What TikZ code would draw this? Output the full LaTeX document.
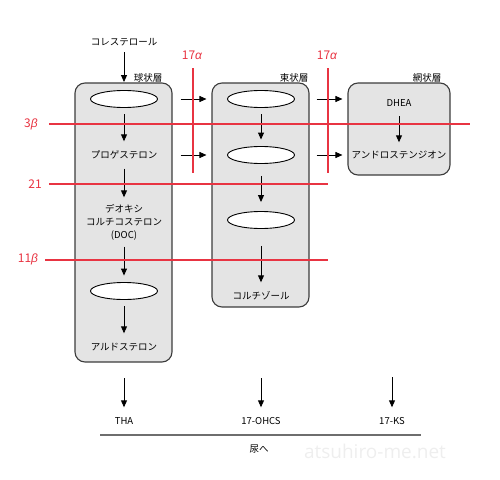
\documentclass[tikz,border=0pt]{standalone}
\usepackage{fontspec}
\setmainfont{Noto Sans CJK JP}
\newfontfamily\grkfont{Liberation Sans}
\newfontfamily\wmfont{Open Sans}
\usetikzlibrary{arrows.meta,shapes.geometric}
\definecolor{zred}{RGB}{232,52,66}
\definecolor{zfill}{RGB}{228,228,228}
\definecolor{zedge}{RGB}{60,60,60}
\definecolor{wmark}{RGB}{238,238,238}
\definecolor{uline}{RGB}{110,110,110}
\begin{document}
\begin{tikzpicture}[x=1pt,y=-1pt,
  font=\fontsize{9.5}{13}\selectfont,
  zone/.style={draw=zedge, fill=zfill, rounded corners=10pt, line width=1.1pt, inner sep=0pt},
  oval/.style={ellipse, draw=black, fill=white, minimum width=67pt, minimum height=17pt, inner sep=0pt, line width=0.9pt},
  lbl/.style={inner sep=0pt, minimum height=14pt, text=black, align=center},
  arr/.style={-{Triangle[length=7pt,width=6pt]}, line width=0.9pt, shorten <=6.5pt, shorten >=6.5pt},
  enz/.style={draw=zred, line width=1.1pt},
  enzlbl/.style={text=zred, font=\fontsize{12}{14}\selectfont, inner sep=0pt},
  layer/.style={inner sep=0pt, font=\fontsize{9.5}{11}\selectfont}
]
\useasboundingbox (0,0) rectangle (500,479);

% zones
\node[zone, minimum width=97pt, minimum height=279pt] (box1) at (123.5,222.5) {};
\node[zone, minimum width=97pt, minimum height=224pt] (box2) at (260.5,195) {};
\node[zone, minimum width=102pt, minimum height=92pt] (box3) at (399,129) {};

\node[layer] (lay1) at (148,78) {球状層};
\node[layer] (lay2) at (294,78) {束状層};
\node[layer] (lay3) at (427,78) {網状層};

% column 1
\node[lbl] (chol) at (124,42) {コレステロール};
\node[oval] (e11) at (124,99) {};
\node[lbl] (prog) at (124,155) {プロゲステロン};
\node[lbl] (doc) at (124,222) {デオキシ\\コルチコステロン\\(DOC)};
\node[oval] (e12) at (124,291) {};
\node[lbl] (aldo) at (124,347) {アルドステロン};

% column 2
\node[oval] (e21) at (261,99) {};
\node[oval] (e22) at (261,155) {};
\node[oval] (e23) at (261,220) {};
\node[lbl] (cort) at (261,296) {コルチゾール};

% column 3
\node[lbl] (dhea) at (399,103) {DHEA};
\node[lbl] (andro) at (399,155) {アンドロステンジオン};

% enzyme lines
\node[enzlbl] (l3b) at (31,124) {3{\grkfont\itshape β}};
\node[enzlbl] (l21) at (35,184) {21};
\node[enzlbl] (l11b) at (28,259) {11{\grkfont\itshape β}};
\node[enzlbl] (l17a) at (192,55) {17{\grkfont\itshape α}};
\node[enzlbl] (l17b) at (327,55) {17{\grkfont\itshape α}};
\coordinate (r3s) at (49,124);   \coordinate (r3e) at (470,124);
\coordinate (r21s) at (49,184);  \coordinate (r21e) at (328,184);
\coordinate (r11s) at (45,260);  \coordinate (r11e) at (328,260);
\coordinate (v1s) at (193,68);   \coordinate (v1e) at (193,173);
\coordinate (v2s) at (328,68);   \coordinate (v2e) at (328,173);

% vertical arrows
\draw[arr, shorten <=3pt, shorten >=8pt] (chol) -- (e11.north);
\draw[arr] (e11) -- (prog);
\draw[arr] (prog) -- (doc);
\draw[arr] (doc) -- (e12);
\draw[arr] (e12) -- (aldo);
\draw[arr] (e21) -- (e22);
\draw[arr, shorten <=12pt, shorten >=9pt] (e22) -- (e23);
\draw[arr, shorten <=17pt] (e23) -- (cort);
\draw[arr, shorten <=6pt, shorten >=5.5pt] (dhea) -- (andro);

% horizontal arrows
\draw[arr, shorten <=8pt, shorten >=5pt] (box1.east |- e11) -- (box2.west |- e11);
\draw[arr, shorten <=8pt, shorten >=5pt] (box1.east |- prog) -- (box2.west |- prog);
\draw[arr, shorten <=7pt, shorten >=5pt] (box2.east |- e21) -- (box3.west |- e21);
\draw[arr, shorten <=7pt, shorten >=5pt] (box2.east |- e22) -- (box3.west |- e22);

% red lines
\draw[enz] (r3s) -- (r3e);
\draw[enz] (r21s) -- (r21e);
\draw[enz] (r11s) -- (r11e);
\draw[enz] (v1s) -- (v1e);
\draw[enz] (v2s) -- (v2e);

% bottom
\node[lbl] (tha) at (124,421) {THA};
\node[lbl] (ohcs) at (261,421) {17-OHCS};
\node[lbl] (ks) at (392,421) {17-KS};
\coordinate (b1) at (124,371.5);
\coordinate (b2) at (261,371.5);
\coordinate (b3) at (392,370.5);
\draw[arr] (b1) -- (tha);
\draw[arr] (b2) -- (ohcs);
\draw[arr] (b3) -- (ks);
\coordinate (u1) at (100,435);
\coordinate (u2) at (421,435);
\draw[draw=uline, line width=1.4pt] (u1) -- (u2);
\node[lbl] (urine) at (259,449) {尿へ};
\node[inner sep=0pt, text=wmark, font=\wmfont\fontsize{19}{22}\selectfont] (wm) at (375,451) {atsuhiro-me.net};
\end{tikzpicture}
\end{document}
